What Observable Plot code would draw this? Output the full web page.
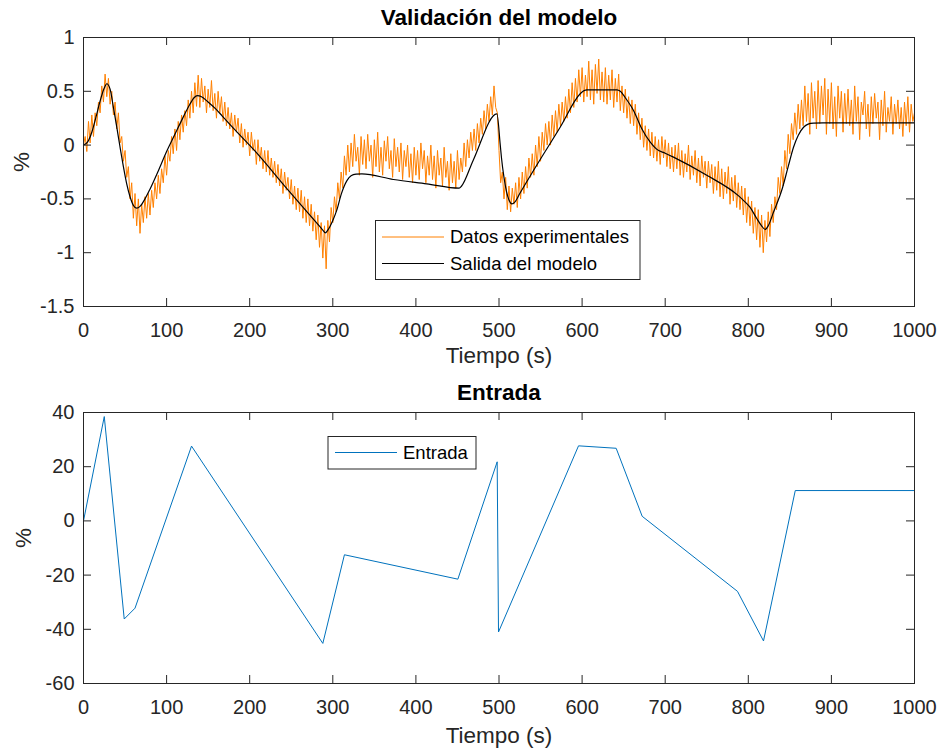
<!DOCTYPE html>
<html>
<head>
<meta charset="utf-8">
<script src="https://cdn.jsdelivr.net/npm/d3@7"></script>
<script src="https://cdn.jsdelivr.net/npm/@observablehq/plot@0.6"></script>
<style>
  body { margin: 0; background: #fff; }
  #chart svg { display: block; }
</style>
</head>
<body>
<div id="chart"></div>
<script>
// ---- Axis ticks ----
const xTicks = [0, 100, 200, 300, 400, 500, 600, 700, 800, 900, 1000];
const yTicksTop = [-1.5, -1, -0.5, 0, 0.5, 1];
const yTicksBottom = [-60, -40, -20, 0, 20, 40];

// ---- Measured response (%), one sample every 2 s from t = 0 to 1000 s ----
const expStep = 2;
const expValues = [
  0.00, 0.08, -0.06, 0.22, 0.02,   0.28, 0.08, 0.30, 0.18, 0.40,
  0.30, 0.55, 0.40, 0.66, 0.45,    0.62, 0.38, 0.50, 0.28, 0.40,
  0.15, 0.30, 0.02, 0.08, -0.15,   -0.05, -0.30, -0.20, -0.50, -0.35,
  -0.68, -0.45, -0.75, -0.50, -0.82, -0.55, -0.72, -0.48, -0.68, -0.45,
  -0.65, -0.42, -0.58, -0.35, -0.50, -0.28, -0.45, -0.22, -0.35, -0.10,
  -0.28, -0.05, -0.15, 0.08, -0.08, 0.15, -0.05, 0.22, 0.05, 0.28,
  0.12, 0.32, 0.18, 0.42, 0.25,    0.50, 0.30, 0.58, 0.36, 0.65,
  0.35, 0.62, 0.40, 0.55, 0.30,    0.52, 0.35, 0.60, 0.32, 0.48,
  0.25, 0.50, 0.30, 0.45, 0.22,    0.40, 0.18, 0.35, 0.15, 0.30,
  0.08, 0.28, 0.12, 0.25, 0.02,    0.20, -0.02, 0.15, 0.00, 0.12,
  -0.10, 0.12, -0.05, 0.05, -0.18, 0.05, -0.15, -0.02, -0.22, -0.05,
  -0.25, -0.05, -0.28, -0.12, -0.30, -0.15, -0.35, -0.18, -0.38, -0.22,
  -0.45, -0.25, -0.42, -0.30, -0.50, -0.32, -0.55, -0.38, -0.60, -0.40,
  -0.62, -0.42, -0.68, -0.48, -0.72, -0.50, -0.75, -0.55, -0.80, -0.62,
  -0.88, -0.65, -0.95, -0.72, -1.05, -0.75, -1.15, -0.70, -0.90, -0.58,
  -0.72, -0.48, -0.62, -0.35, -0.50, -0.25, -0.40, -0.10, -0.28, 0.00,
  -0.25, 0.02, -0.20, 0.10, -0.15, -0.02, -0.28, 0.08, -0.18, 0.05,
  -0.22, 0.10, -0.15, 0.00, -0.30,  0.05, -0.20, 0.12, -0.25, -0.02,
  -0.28, 0.04, -0.15, 0.08, -0.22, -0.05, -0.30, 0.06, -0.20, -0.02,
  -0.25, 0.02, -0.32, -0.05, -0.20, 0.00, -0.30, -0.08, -0.35, -0.02,
  -0.28, -0.05, -0.32, 0.02, -0.22, -0.05, -0.35, -0.10, -0.28, 0.00,
  -0.32, -0.10, -0.40, -0.05, -0.28, -0.12, -0.38, -0.02, -0.30, -0.15,
  -0.42, -0.08, -0.35, -0.15, -0.40, -0.05, -0.32, -0.12, -0.25, 0.02,
  -0.20, 0.05, -0.12, 0.12, -0.05,  0.15, -0.05, 0.20, 0.02, 0.25,
  0.10, 0.32, 0.15, 0.38, 0.22,    0.45, 0.28, 0.55, 0.35, 0.30,
  -0.05, -0.35, -0.25, -0.50, -0.30, -0.60, -0.38, -0.62, -0.40, -0.55,
  -0.35, -0.58, -0.30, -0.50, -0.25, -0.45, -0.20, -0.40, -0.12, -0.30,
  -0.08, -0.28, 0.00, -0.20, 0.08,  -0.15, 0.12, -0.05, 0.20, 0.00,
  0.22, 0.00, 0.28, 0.08, 0.32,    0.12, 0.38, 0.18, 0.40, 0.22,
  0.45, 0.25, 0.52, 0.30, 0.58,    0.35, 0.62, 0.40, 0.70, 0.45,
  0.72, 0.40, 0.65, 0.45, 0.78,    0.42, 0.70, 0.38, 0.75, 0.48,
  0.80, 0.42, 0.68, 0.40, 0.72,    0.38, 0.65, 0.42, 0.70, 0.35,
  0.62, 0.40, 0.66, 0.32, 0.55,    0.30, 0.52, 0.25, 0.45, 0.20,
  0.42, 0.18, 0.38, 0.10, 0.30,    0.05, 0.25, -0.02, 0.18, -0.05,
  0.15, -0.10, 0.12, -0.12, 0.08,  -0.15, 0.05, -0.18, 0.08, -0.12,
  0.05, -0.20, 0.02, -0.22, -0.02, -0.25, 0.00, -0.22, 0.02, -0.28,
  -0.05, -0.30, -0.08, -0.25, 0.00, -0.32, -0.10, -0.28, -0.05, -0.35,
  -0.12, -0.38, -0.10, -0.30, -0.15, -0.40, -0.15, -0.35, -0.18, -0.45,
  -0.20, -0.42, -0.15, -0.48, -0.22, -0.50, -0.25, -0.45, -0.20, -0.55,
  -0.30, -0.52, -0.28, -0.58, -0.35, -0.60, -0.38, -0.65, -0.40, -0.72,
  -0.48, -0.75, -0.52, -0.82, -0.58, -0.88, -0.60, -0.95, -0.65, -1.00,
  -0.70, -0.90, -0.62, -0.85, -0.55, -0.72, -0.48, -0.60, -0.30, -0.45,
  -0.20, -0.38, -0.05, -0.22, 0.10, -0.08, 0.20, 0.05, 0.30, 0.10,
  0.38, 0.15, 0.42, 0.18, 0.55,    0.22, 0.48, 0.10, 0.58, 0.25,
  0.50, 0.15, 0.60, 0.20, 0.55,    0.28, 0.62, 0.10, 0.52, 0.20,
  0.58, 0.15, 0.45, 0.08, 0.55,    0.25, 0.50, 0.12, 0.48, 0.20,
  0.52, 0.18, 0.42, 0.10, 0.55,    0.22, 0.45, 0.05, 0.40, 0.28,
  0.50, 0.15, 0.38, 0.08, 0.45,    0.20, 0.48, 0.25, 0.40, 0.05,
  0.42, 0.18, 0.50, 0.12, 0.35,    0.22, 0.45, 0.10, 0.38, 0.20,
  0.42, 0.15, 0.35, 0.08, 0.40,    0.18, 0.45, 0.12, 0.38, 0.22,
  0.30
];
const expTime = expValues.map((_, i) => i * expStep);

// ---- Model output (%) ----
const modelT = [0, 5, 10, 15, 20, 25, 28, 32, 36, 40, 44, 48, 52, 56, 60, 64, 68, 74, 80, 90,
  100, 110, 120, 128, 133, 137, 142, 150, 160, 167, 180, 204, 245, 285, 288, 291, 294, 300, 305, 310,
  317, 322, 328, 335, 373, 413, 452, 455, 469, 497.5, 501.4, 503, 506, 509, 512, 515.5, 519, 525, 541.5, 573.6,
  597.7, 602, 606, 642, 646, 652, 662, 672, 682, 690, 700, 710, 750, 788, 795, 802, 810, 816, 820.3, 824,
  830, 840.8, 848, 854.4, 860, 866.5, 872, 878.5, 890, 1000];
const modelV = [0, 0.03, 0.12, 0.26, 0.41, 0.53, 0.57, 0.52, 0.35, 0.17, -0.02, -0.2, -0.36, -0.48, -0.56, -0.586, -0.57, -0.5, -0.41, -0.24,
  -0.06, 0.1, 0.26, 0.38, 0.44, 0.46, 0.45, 0.40, 0.33, 0.27, 0.16, -0.035, -0.406, -0.763, -0.79, -0.815, -0.79, -0.7, -0.6, -0.46,
  -0.33, -0.285, -0.27, -0.267, -0.32, -0.36, -0.40, -0.38, -0.14, 0.29, 0.01, -0.12, -0.3, -0.43, -0.51, -0.546, -0.53, -0.45, -0.236, 0.166,
  0.477, 0.505, 0.514, 0.514, 0.5, 0.44, 0.32, 0.15, 0.027, -0.04, -0.075, -0.112, -0.28, -0.47, -0.52, -0.577, -0.68, -0.75, -0.784, -0.75,
  -0.63, -0.406, -0.2, -0.02, 0.09, 0.166, 0.195, 0.204, 0.207, 0.207];

// ---- Input signal (%) ----
const inputT = [0, 25, 49, 62, 130, 288, 314, 450.5, 497.8, 499.4, 595.7, 641, 672.3, 787, 818.3, 856.5, 1000];
const inputV = [0, 38.5, -36.2, -32.2, 27.6, -45.2, -12.5, -21.5, 21.8, -41, 27.7, 26.8, 1.7, -26, -44.3, 11.2, 11.2];

// ---- Styling ----
const FONT = '"Liberation Sans", Arial, Helvetica, sans-serif';
const AX = "#262626";
const ORANGE = "#FF8000";
const BLUE = "#0072BD";
const W = 939, ML = 83, MR = 25, MT = 37;
const TICK = 8;

function panel({height, marginBottom, yDomain, yTicks, title, titleDy, xLabelDy, yLabelDx, marks}) {
  const innerW = W - ML - MR;
  const innerH = height - MT - marginBottom;
  const fmt = d => String(d);
  return Plot.plot({
    width: W,
    height,
    marginTop: MT,
    marginBottom,
    marginLeft: ML,
    marginRight: MR,
    style: {fontFamily: FONT, fontSize: "20px", color: AX, background: "white", overflow: "visible"},
    x: {domain: [0, 1000]},
    y: {domain: yDomain},
    marks: [
      ...marks,
      Plot.frame({stroke: AX, strokeWidth: 1}),
      // inward ticks on all four sides
      Plot.ruleX(xTicks, {stroke: AX, insetTop: innerH - TICK}),
      Plot.ruleX(xTicks, {stroke: AX, insetBottom: innerH - TICK}),
      Plot.ruleY(yTicks, {stroke: AX, insetRight: innerW - TICK}),
      Plot.ruleY(yTicks, {stroke: AX, insetLeft: innerW - TICK}),
      Plot.axisX(xTicks, {tickSize: 0, tickPadding: 16, tickFormat: fmt, label: null}),
      Plot.axisY(yTicks, {tickSize: 0, tickPadding: 9, tickFormat: fmt, label: null}),
      Plot.text([title], {text: d => d, frameAnchor: "top", lineAnchor: "middle", dy: titleDy, fontWeight: "bold", fontSize: 22.5, fill: "black"}),
      Plot.text(["Tiempo (s)"], {text: d => d, frameAnchor: "bottom", lineAnchor: "middle", dy: xLabelDy, fontSize: 22.5, fill: AX}),
      Plot.text(["%"], {text: d => d, frameAnchor: "left", lineAnchor: "middle", dx: yLabelDx, rotate: -90, fontSize: 22.5, fill: AX})
    ]
  });
}

function addLegend(svg, {x, y, w, h, items, lineX1, lineX2, textX}) {
  const g = d3.select(svg).append("g")
    .attr("font-family", FONT).attr("font-size", 18.5).attr("text-anchor", "start");
  g.append("rect").attr("x", x).attr("y", y).attr("width", w).attr("height", h)
    .attr("fill", "white").attr("stroke", AX).attr("stroke-width", 1);
  for (const it of items) {
    g.append("line").attr("x1", lineX1).attr("x2", lineX2).attr("y1", it.y).attr("y2", it.y)
      .attr("stroke", it.color).attr("stroke-width", it.width);
    g.append("text").attr("x", textX).attr("y", it.y).attr("dy", "0.35em")
      .attr("text-anchor", "start").attr("fill", "black").text(it.label);
  }
}

const chart = document.getElementById("chart");

// Top panel: model validation
const validationPlot = panel({
  height: 375,
  marginBottom: 69,
  yDomain: [-1.5, 1],
  yTicks: yTicksTop,
  title: "Validación del modelo",
  titleDy: -19.5,
  xLabelDy: 49,
  yLabelDx: -62,
  marks: [
    Plot.line(expValues, {x: expTime, y: expValues, stroke: ORANGE, strokeWidth: 1}),
    Plot.line(modelV, {x: modelT, y: modelV, curve: "monotone-x", stroke: "black", strokeWidth: 1.2})
  ]
});
addLegend(validationPlot, {
  x: 375.5, y: 220.5, w: 264.5, h: 59,
  lineX1: 382, lineX2: 444, textX: 450,
  items: [
    {label: "Datos experimentales", color: ORANGE, width: 1},
    {label: "Salida del modelo", color: "black", width: 1.2}
  ].map((d, i) => ({...d, y: 237 + i * 26.5}))
});
chart.appendChild(validationPlot);

// Bottom panel: input signal
const inputPlot = panel({
  height: 376,
  marginBottom: 68,
  yDomain: [-60, 40],
  yTicks: yTicksBottom,
  title: "Entrada",
  titleDy: -20,
  xLabelDy: 52,
  yLabelDx: -60,
  marks: [
    Plot.line(inputV, {x: inputT, y: inputV, stroke: BLUE, strokeWidth: 1})
  ]
});
addLegend(inputPlot, {
  x: 328, y: 61.5, w: 148, h: 32.5,
  lineX1: 335, lineX2: 397, textX: 403,
  items: [{label: "Entrada", color: BLUE, width: 1, y: 77.5}]
});
chart.appendChild(inputPlot);
</script>
</body>
</html>
